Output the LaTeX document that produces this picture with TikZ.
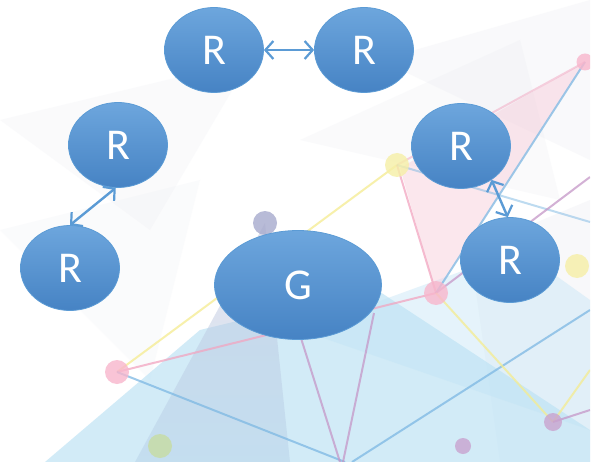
\documentclass[tikz,border=0pt]{standalone}
\usepackage{fontspec}
\setmainfont{Carlito}
\usetikzlibrary{shapes.geometric,arrows.meta}
\definecolor{nodeTop}{HTML}{6DA6DD}
\definecolor{nodeBot}{HTML}{4683C4}
\definecolor{nodeEdge}{HTML}{5B9BD5}
\definecolor{arrowC}{HTML}{5B9BD5}
\definecolor{bgBlue}{HTML}{BFE3F5}
\definecolor{bgPink}{HTML}{F7C6D6}
\definecolor{bgGray}{HTML}{E4E6EE}
\definecolor{lnBlue}{HTML}{7DB8E3}
\definecolor{lnPink}{HTML}{F2A5C0}
\definecolor{lnYellow}{HTML}{F5EC8F}
\definecolor{lnPurple}{HTML}{C597C8}
\definecolor{dotPink}{HTML}{F8B6CC}
\definecolor{dotYellow}{HTML}{F6EFA6}
\definecolor{dotPurple}{HTML}{C9A3CF}
\definecolor{dotSlate}{HTML}{A7AACD}
\definecolor{dotGreen}{HTML}{C7DCA2}
\tikzset{
  ell/.style={ellipse, draw=nodeEdge, line width=0.8pt, top color=nodeTop, bottom color=nodeBot,
    inner sep=0pt, text=white, font=\fontsize{44}{44}\selectfont},
  rnode/.style={ell, minimum width=99pt, minimum height=85pt},
  gnode/.style={ell, minimum width=167pt, minimum height=109pt},
  link/.style={draw=arrowC, line width=2.4pt, {Straight Barb[length=8pt,width=18pt,line width=2.2pt]}-{Straight Barb[length=8pt,width=18pt,line width=2.2pt]}},
  bgline/.style={line width=2pt, opacity=0.75},
  bgdot/.style={circle, inner sep=0pt, opacity=0.8}
}
\begin{document}
\begin{tikzpicture}[x=1pt,y=-1pt]
\useasboundingbox (0,0) rectangle (601,462);
\fill[white] (0,0) rectangle (601,462);
\begin{scope}
\clip (0,0) rectangle (590,462);
% faint gray facets
\fill[bgGray, opacity=0.18] (0,120) -- (250,60) -- (150,230) -- cycle;
\fill[bgGray, opacity=0.18] (300,140) -- (520,40) -- (560,200) -- cycle;
\fill[bgGray, opacity=0.22] (380,60) -- (590,0) -- (590,160) -- cycle;
\fill[bgGray, opacity=0.15] (0,230) -- (200,180) -- (150,380) -- cycle;
\fill[bgGray, opacity=0.25] (470,250) -- (590,200) -- (590,462) -- (500,462) -- cycle;
% light blue region
\fill[bgBlue, opacity=0.7] (45,462) -- (200,330) -- (374,288) -- (590,430) -- (590,462) -- cycle;
\fill[bgBlue, opacity=0.4] (300,330) -- (520,250) -- (590,300) -- (590,430) -- cycle;
% slate spotlight
\shade[top color=dotSlate!70, bottom color=dotSlate!30!bgBlue, opacity=0.5] (265,223) -- (135,462) -- (290,462) -- cycle;
% pink triangle
\fill[bgPink, opacity=0.42] (585,62) -- (400,168) -- (436,293) -- cycle;
% lines
\draw[bgline, lnYellow] (117,372) -- (397,165);
\draw[bgline, lnPink] (117,372) -- (436,293);
\draw[bgline, lnBlue] (117,372) -- (345,462);
\draw[bgline, lnPink] (397,165) -- (436,293);
\draw[bgline, lnBlue] (436,293) -- (585,62);
\draw[bgline, lnPink, opacity=0.5] (397,165) -- (585,62);
\draw[bgline, lnBlue, opacity=0.5] (397,165) -- (590,222);
\draw[bgline, lnPurple] (436,293) -- (590,177);
\draw[bgline, lnPurple] (300,335) -- (340,462);
\draw[bgline, lnPurple] (374,313) -- (343,462);
\draw[bgline, lnBlue] (352,462) -- (590,310);
\draw[bgline, lnYellow] (436,293) -- (553,422);
\draw[bgline, lnYellow] (553,422) -- (590,370);
\draw[bgline, lnPurple] (553,422) -- (590,410);
% dots
\node[bgdot, fill=dotPink, minimum size=17pt] (d1) at (585,62) {};
\node[bgdot, fill=dotPink, minimum size=24pt] (d2) at (436,293) {};
\node[bgdot, fill=dotPink, minimum size=24pt] (d3) at (117,372) {};
\node[bgdot, fill=dotYellow, minimum size=24pt] (d4) at (397,165) {};
\node[bgdot, fill=dotYellow, minimum size=24pt] (d5) at (577,266) {};
\node[bgdot, fill=dotSlate, minimum size=24pt] (d6) at (265,223) {};
\node[bgdot, fill=dotGreen, minimum size=24pt] (d7) at (160,446) {};
\node[bgdot, fill=dotPurple, minimum size=16pt] (d8) at (463,446) {};
\node[bgdot, fill=dotPurple, minimum size=18pt] (d9) at (553,422) {};
\end{scope}
% main nodes
\node[rnode] (ra) at (214,50) {R};
\node[rnode] (rb) at (364,50) {R};
\node[rnode] (la) at (118,145) {R};
\node[rnode] (lb) at (70,268) {R};
\node[rnode] (ua) at (461,146) {R};
\node[rnode] (ub) at (510,260) {R};
\node[gnode] (g) at (298,285) {G};
% connectors
\draw[link] (ra) -- (rb);
\draw[link] (la.-93) -- (lb.90);
\draw[link] (ua.-48) -- (ub.93);
\end{tikzpicture}
\end{document}
